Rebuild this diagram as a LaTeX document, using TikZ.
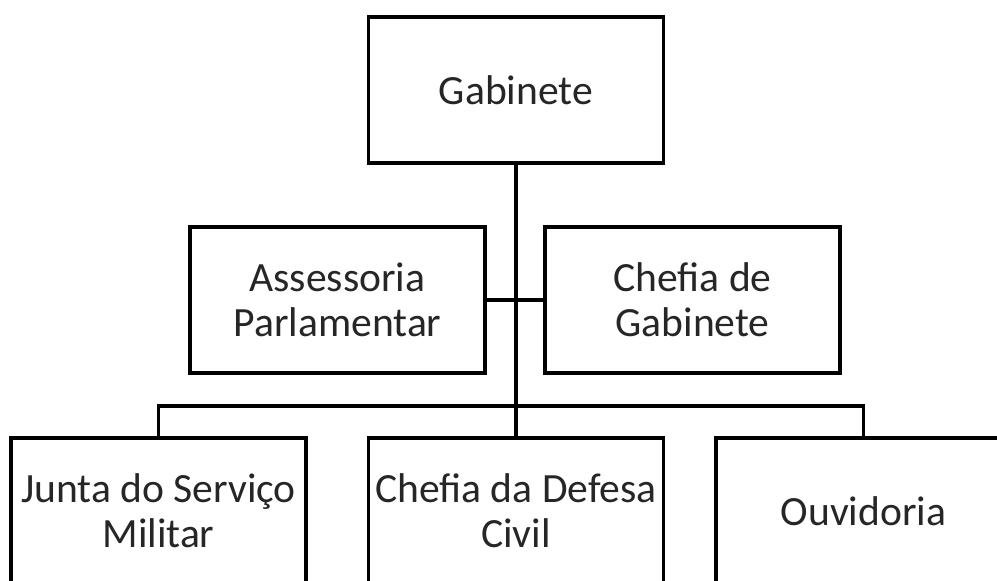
\documentclass[tikz,border=0pt]{standalone}
\usepackage{fontspec}
\setmainfont{Carlito}
\begin{document}
\begin{tikzpicture}[x=0.5pt,y=-0.5pt,
  orgbox/.style={draw=black,line width=1.6pt,fill=white,rectangle,inner sep=0pt,
    minimum width=147.5pt,minimum height=73pt,align=center,
    font=\fontsize{20.8}{22.5}\selectfont,text=black!85},
  link/.style={draw=black,line width=1.6pt}]
\useasboundingbox (0,0) rectangle (997,581);
\clip (0,0) rectangle (997,581);
\node[orgbox] (gab) at (516,90) {Gabinete};
\node[orgbox] (ass) at (337.5,300) {Assessoria\\Parlamentar};
\node[orgbox] (chg) at (692.5,300) {Chefia de\\Gabinete};
\node[orgbox] (jun) at (158.5,511) {Junta do Serviço\\Militar};
\node[orgbox] (def) at (516,511) {Chefia da Defesa\\Civil};
\node[orgbox] (ouv) at (863.5,511) {Ouvidoria};
\coordinate (bus) at (516,406);
\draw[link] (gab.south) -- (def.north);
\draw[link] (ass.east) -- (chg.west);
\draw[link] (jun.north) |- (bus) -| (ouv.north);
\end{tikzpicture}
\end{document}
